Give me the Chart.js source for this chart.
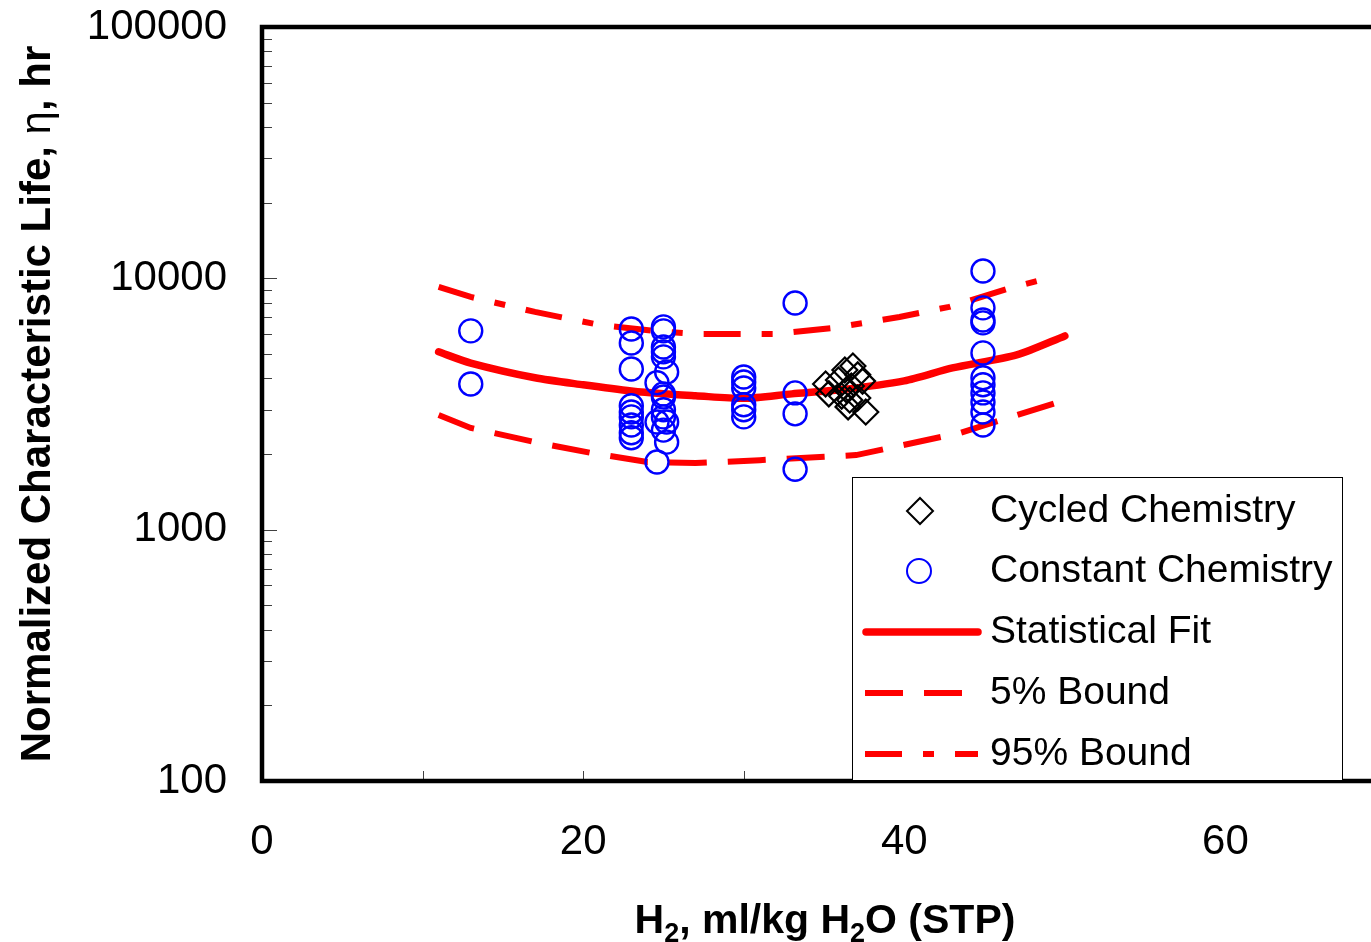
<!DOCTYPE html>
<html>
<head>
<meta charset="utf-8">
<script src="https://cdn.jsdelivr.net/npm/chart.js@4"></script>
<style>
  html, body { margin: 0; padding: 0; background: #fff; overflow: hidden; }
  #wrap { width: 1390px; height: 942px; position: relative; }
</style>
</head>
<body>
<div id="wrap"><canvas id="lifeChart"></canvas></div>
<script>
// --- data ---
const cycledX = [35.1, 35.3, 35.9, 36.3, 36.8, 37.1, 37.4, 36.4, 36.7, 36.6, 37.1, 37.6, 36.5, 36.1];
const cycledY = [3800, 3470, 3940, 4320, 4480, 4130, 3900, 3600, 3730, 3280, 3340, 2940, 3080, 3400];

const constantX = [
  13, 13,
  23, 23, 23, 23, 23, 23, 23, 23, 23,
  25, 25, 25, 25, 25, 25, 25, 25, 25, 25, 25.2, 25.2, 25.2, 24.6, 24.6, 24.6,
  30, 30, 30, 30, 30, 30,
  33.2, 33.2, 33.2, 33.2,
  44.9, 44.9, 44.9, 44.9, 44.9, 44.9, 44.9, 44.9, 44.9, 44.9, 44.9
];
const constantY = [
  6180, 3800,
  6290, 5530, 4360, 3110, 2940, 2810, 2610, 2430, 2320,
  6410, 6180, 5330, 5100, 4870, 3470, 3370, 3000, 2810, 2490, 4240, 2680, 2230, 3840, 2680, 1860,
  4050, 3870, 3660, 3140, 3000, 2810,
  7980, 3500, 2890, 1740,
  10700, 7630, 6830, 6650, 5050, 4020, 3770, 3500, 3220, 2940, 2610
];

const fitX = [11, 13, 17, 20, 23, 25, 27, 30, 33, 36, 40, 43, 47, 50];
const fitY = [5100, 4600, 4020, 3770, 3560, 3470, 3410, 3330, 3470, 3600, 3910, 4400, 4960, 5900];

const lowX = [11, 13, 17, 20.5, 24, 27, 31, 37, 43.5, 49.5];
const lowY = [2860, 2540, 2230, 2020, 1860, 1840, 1890, 1980, 2430, 3200];

const highX = [11, 13, 17, 21, 24.4, 27, 32, 35.6, 39.7, 42.8, 46.6, 48.8];
const highY = [9240, 8430, 7350, 6530, 6180, 6010, 6010, 6350, 7020, 7700, 9160, 9950];

const xTickLabels = [0, 20, 40, 60];
const yTickLabels = [100, 1000, 10000, 100000];

const RED = '#ff0000';
const BLUE = '#0000ff';

function pts(xs, ys) {
  return xs.map((x, i) => ({ x: x, y: ys[i] }));
}

// frame + inward tick marks
const framePlugin = {
  id: 'frame',
  afterDatasetsDraw(chart) {
    const ctx = chart.ctx;
    const a = chart.chartArea;
    const xs = chart.scales.x;
    const ys = chart.scales.y;
    ctx.save();
    ctx.strokeStyle = '#404040';
    ctx.lineWidth = 1;
    ctx.beginPath();
    for (let e = 2; e <= 5; e++) {
      for (let m = 1; m <= 9; m++) {
        const v = m * Math.pow(10, e);
        if (v > 100000) break;
        const py = Math.round(ys.getPixelForValue(v)) + 0.5;
        const len = m === 1 ? 15 : 10;
        ctx.moveTo(a.left, py);
        ctx.lineTo(a.left + len, py);
      }
    }
    for (let v = 10; v <= 70; v += 10) {
      const px = Math.round(xs.getPixelForValue(v)) + 0.5;
      ctx.moveTo(px, a.bottom);
      ctx.lineTo(px, a.bottom - 10);
    }
    ctx.stroke();

    ctx.strokeStyle = '#000';
    ctx.lineWidth = 4.5;
    ctx.strokeRect(a.left, a.top, a.right - a.left, a.bottom - a.top);
    ctx.restore();
  }
};

// axis titles with the original mixed fonts
const titlePlugin = {
  id: 'titles',
  afterDraw(chart) {
    const ctx = chart.ctx;
    const a = chart.chartArea;
    ctx.save();
    ctx.fillStyle = '#000';

    // y title
    const yRuns = [
      { t: 'Normalized Characteristic Life, ', f: 'bold 42px "Liberation Sans", Arial, sans-serif' },
      { t: 'η', f: '42px "Liberation Sans", Arial, sans-serif' },
      { t: ', hr', f: 'bold 42px "Liberation Sans", Arial, sans-serif' }
    ];
    let total = 0;
    yRuns.forEach(r => { ctx.font = r.f; r.w = ctx.measureText(r.t).width; total += r.w; });
    ctx.translate(50, (a.top + a.bottom) / 2);
    ctx.rotate(-Math.PI / 2);
    ctx.textBaseline = 'alphabetic';
    let x0 = -total / 2;
    yRuns.forEach(r => { ctx.font = r.f; ctx.fillText(r.t, x0, 0); x0 += r.w; });
    ctx.setTransform(1, 0, 0, 1, 0, 0);

    // x title with subscripts
    const big = 'bold 41px "Liberation Sans", Arial, sans-serif';
    const sub = 'bold 27px "Liberation Sans", Arial, sans-serif';
    const xRuns = [
      { t: 'H', f: big, d: 0 },
      { t: '2', f: sub, d: 9 },
      { t: ', ml/kg H', f: big, d: 0 },
      { t: '2', f: sub, d: 9 },
      { t: 'O (STP)', f: big, d: 0 }
    ];
    total = 0;
    xRuns.forEach(r => { ctx.font = r.f; r.w = ctx.measureText(r.t).width; total += r.w; });
    x0 = 825 - total / 2;
    const base = 933;
    xRuns.forEach(r => { ctx.font = r.f; ctx.fillText(r.t, x0, base + r.d); x0 += r.w; });
    ctx.restore();
  }
};

// boxed legend inside the plot, like the original
const legendPlugin = {
  id: 'boxLegend',
  afterDraw(chart) {
    const ctx = chart.ctx;
    const sets = chart.data.datasets;
    const bx = 852, by = 477, bw = 490, bh = 303;
    ctx.save();
    ctx.fillStyle = '#fff';
    ctx.fillRect(bx, by, bw, bh);
    ctx.strokeStyle = '#000';
    ctx.lineWidth = 1;
    ctx.strokeRect(bx + 0.5, by + 0.5, bw, bh);

    const rowY = [511, 571, 632, 693, 754];
    ctx.font = '39px "Liberation Sans", Arial, sans-serif';
    ctx.textBaseline = 'middle';
    sets.forEach((ds, i) => {
      const y = rowY[i];
      if (ds.pointStyle === 'rectRot') {
        const r = 13;
        ctx.strokeStyle = ds.borderColor;
        ctx.lineWidth = 2;
        ctx.beginPath();
        ctx.moveTo(920, y - r); ctx.lineTo(920 + r, y); ctx.lineTo(920, y + r); ctx.lineTo(920 - r, y);
        ctx.closePath();
        ctx.stroke();
      } else if (ds.pointStyle === 'circle') {
        ctx.strokeStyle = ds.borderColor;
        ctx.lineWidth = 2;
        ctx.beginPath();
        ctx.arc(919, y, 12, 0, Math.PI * 2);
        ctx.stroke();
      } else {
        ctx.strokeStyle = ds.borderColor;
        ctx.lineWidth = ds.borderWidth;
        ctx.lineCap = ds.borderDash.length ? 'butt' : 'round';
        ctx.setLineDash(ds.borderDash);
        ctx.beginPath();
        ctx.moveTo(ds.borderDash.length ? 865 : 866, y);
        ctx.lineTo(978, y);
        ctx.stroke();
        ctx.setLineDash([]);
        ctx.lineCap = 'butt';
      }
      ctx.fillStyle = '#000';
      ctx.fillText(ds.label, 990, y);
    });
    ctx.restore();
  }
};

const ctx = document.getElementById('lifeChart').getContext('2d');
const lifeChart = new Chart(ctx, {
  type: 'scatter',
  data: {
    datasets: [
      {
        label: 'Cycled Chemistry',
        data: pts(cycledX, cycledY),
        pointStyle: 'rectRot',
        pointRadius: 12.5,
        pointBorderWidth: 2.2,
        borderColor: '#000',
        backgroundColor: 'rgba(0,0,0,0)',
        showLine: false
      },
      {
        label: 'Constant Chemistry',
        data: pts(constantX, constantY),
        pointStyle: 'circle',
        pointRadius: 11.5,
        pointBorderWidth: 2.4,
        borderColor: BLUE,
        backgroundColor: 'rgba(0,0,0,0)',
        showLine: false
      },
      {
        label: 'Statistical Fit',
        data: pts(fitX, fitY),
        showLine: true,
        pointRadius: 0,
        borderColor: RED,
        borderWidth: 7.5,
        borderDash: [],
        borderCapStyle: 'round',
        tension: 0.25
      },
      {
        label: '5% Bound',
        data: pts(lowX, lowY),
        showLine: true,
        pointRadius: 0,
        borderColor: RED,
        borderWidth: 6,
        borderDash: [38, 21],
        tension: 0
      },
      {
        label: '95% Bound',
        data: pts(highX, highY),
        showLine: true,
        pointRadius: 0,
        borderColor: RED,
        borderWidth: 6,
        borderDash: [37, 21, 11, 21],
        tension: 0
      }
    ]
  },
  options: {
    responsive: true,
    maintainAspectRatio: false,
    animation: false,
    events: [],
    layout: {
      autoPadding: false,
      padding: { top: 27, right: 4, left: 0, bottom: 0 }
    },
    plugins: {
      legend: { display: false },
      tooltip: { enabled: false }
    },
    scales: {
      x: {
        type: 'linear',
        min: 0,
        max: 70,
        grid: { display: false, drawTicks: false },
        border: { display: false },
        afterBuildTicks: (scale) => {
          scale.ticks = xTickLabels.map(v => ({ value: v }));
        },
        afterFit: (scale) => {
          scale.height = 161;
          scale.paddingLeft = 0;
          scale.paddingRight = 0;
        },
        ticks: {
          color: '#000',
          padding: 36,
          maxRotation: 0,
          font: { family: '"Liberation Sans", Arial, sans-serif', size: 42 }
        }
      },
      y: {
        type: 'logarithmic',
        min: 100,
        max: 100000,
        grid: { display: false, drawTicks: false },
        border: { display: false },
        afterBuildTicks: (scale) => {
          scale.ticks = yTickLabels.map(v => ({ value: v }));
        },
        afterFit: (scale) => {
          scale.width = 262;
          scale.paddingTop = 0;
          scale.paddingBottom = 0;
        },
        ticks: {
          color: '#000',
          padding: 35,
          callback: (v) => String(v),
          font: { family: '"Liberation Sans", Arial, sans-serif', size: 42 }
        }
      }
    }
  },
  plugins: [framePlugin, titlePlugin, legendPlugin]
});
</script>
</body>
</html>
